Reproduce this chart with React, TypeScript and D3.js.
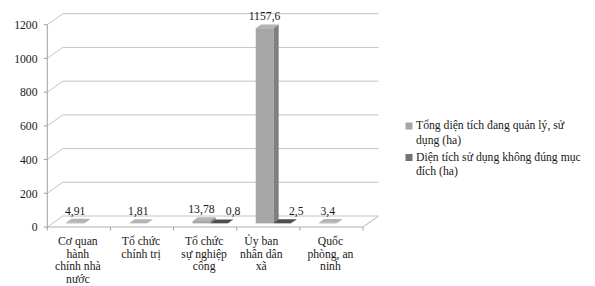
import React from "react";
import * as d3 from "d3";

const categoryLines = [
  ["Cơ quan", "hành", "chính nhà", "nước"],
  ["Tổ chức", "chính trị"],
  ["Tổ chức", "sự nghiệp", "công"],
  ["Ủy ban", "nhân dân", "xã"],
  ["Quốc", "phòng, an", "ninh"],
];
const categories = categoryLines.map((l) => l.join(" "));
const totalArea: (number | null)[] = [4.91, 1.81, 13.78, 1157.6, 3.4];
const misusedArea: (number | null)[] = [null, null, 0.8, 2.5, null];
const legendLines = [
  ["Tổng diện tích đang quản lý, sử", "dụng (ha)"],
  ["Diện tích sử dụng không đúng mục", "đích (ha)"],
];
const yTicks = [0, 200, 400, 600, 800, 1000, 1200];

const W = 595;
const H = 286;
const DX = 15.5; // depth offset of back wall
const DY = -11;
const F0 = 0.33; // bar depth range
const F1 = 0.67;
// no serif face in the sandbox, Liberation Sans at a smaller size keeps the widths close
const FONT = "'Liberation Serif', 'Times New Roman', 'Liberation Sans', Arial, sans-serif";
const FS = 11.7;

const seriesStyle = [
  { front: "#a6a6a6", side: "#7f7f7f", top: "#b4b4b4", legend: "#a6a6a6", labelDx: 0 },
  { front: "#5a5a5a", side: "#3c3c3c", top: "#4e4e4e", legend: "#737373", labelDx: 14 },
];

const fmt = (v: number) => String(v).replace(".", ",");
const pts = (p: [number, number][]) => p.map((d) => d.join(",")).join(" ");

export default function App() {
  const x = d3.scaleBand<string>().domain(categories).range([47.3, 363]);
  const y = d3.scaleLinear().domain([0, 1200]).range([227, 24.7]);
  const bw = x.bandwidth();
  const barW = bw * 0.28;
  const offset = (bw - 2 * barW) / 2;
  const series = [totalArea, misusedArea];

  const bars: JSX.Element[] = [];
  const labels: JSX.Element[] = [];
  categories.forEach((c, ci) => {
    series.forEach((vals, si) => {
      const v = vals[ci];
      if (v == null) return;
      const s = seriesStyle[si];
      const x0 = (x(c) as number) + offset + si * barW + DX * F0;
      const x1 = x0 + barW;
      const yb = y(0) + DY * F0;
      const yt = y(v) + DY * F0;
      const ddx = DX * (F1 - F0);
      const ddy = DY * (F1 - F0);
      bars.push(
        <g key={`b${ci}-${si}`}>
          <polygon
            points={pts([[x1, yb], [x1 + ddx, yb + ddy], [x1 + ddx, yt + ddy], [x1, yt]])}
            fill={s.side}
          />
          <polygon
            points={pts([[x0, yt], [x1, yt], [x1 + ddx, yt + ddy], [x0 + ddx, yt + ddy]])}
            fill={s.top}
          />
          <rect x={x0} y={yt} width={barW} height={Math.max(0, yb - yt)} fill={s.front} />
        </g>
      );
      labels.push(
        <text
          key={`l${ci}-${si}`}
          x={x0 + barW / 2 + s.labelDx}
          y={yt + ddy - 4}
          textAnchor="middle"
          fontSize={FS}
          fill="#1a1a1a"
        >
          {fmt(v)}
        </text>
      );
    });
  });

  const xL = 47.3;
  const xR = 363;
  const catX = (ci: number) => (x(categories[ci]) as number) + bw / 2 - (ci === 3 ? 7 : 1);

  return (
    <svg
      width={W}
      height={H}
      style={{ position: "absolute", left: 0, top: 0, background: "#fff", fontFamily: FONT }}
    >
      {/* back wall gridlines + left wall diagonals */}
      {yTicks.map((t) => (
        <g key={t} stroke="#c4c4c4" strokeWidth={1} fill="none">
          <line x1={xL + DX} x2={xR + DX} y1={y(t) + DY} y2={y(t) + DY} />
          <line x1={xL} x2={xL + DX} y1={y(t)} y2={y(t) + DY} />
        </g>
      ))}
      {/* floor */}
      <polyline
        points={pts([[xL, y(0)], [xR, y(0)], [xR + DX, y(0) + DY]])}
        fill="none"
        stroke="#b0b0b0"
      />
      {/* y axis */}
      <line x1={xL} x2={xL} y1={y(1200)} y2={y(0)} stroke="#a0a0a0" />
      {yTicks.map((t) => (
        <g key={`t${t}`}>
          <line x1={xL - 3.5} x2={xL} y1={y(t)} y2={y(t)} stroke="#a0a0a0" />
          <text x={37.5} y={y(t) + 4.3} textAnchor="end" fontSize={FS} fill="#1a1a1a">
            {t}
          </text>
        </g>
      ))}
      {/* x ticks */}
      {categories.concat([""]).map((c, i) => {
        const xx = xL + i * bw;
        return <line key={`xt${i}`} x1={xx} x2={xx} y1={y(0)} y2={y(0) + 3.5} stroke="#a0a0a0" />;
      })}
      {bars}
      {labels}
      {categoryLines.map((lines, ci) => (
        <text key={`c${ci}`} x={catX(ci)} y={245} textAnchor="middle" fontSize={FS} fill="#1a1a1a">
          {lines.map((ln, li) => (
            <tspan key={li} x={catX(ci)} dy={li === 0 ? 0 : 12.7}>
              {ln}
            </tspan>
          ))}
        </text>
      ))}
      {/* legend */}
      {legendLines.map((lines, i) => {
        const top = i === 0 ? 122.5 : 154;
        return (
          <g key={`lg${i}`}>
            <rect x={405.5} y={top} width={7} height={7} fill={seriesStyle[i].legend} />
            <text x={416} y={top + 6.5} fontSize={FS} fill="#1a1a1a">
              {lines.map((ln, li) => (
                <tspan key={li} x={416} dy={li === 0 ? 0 : 14.5}>
                  {ln}
                </tspan>
              ))}
            </text>
          </g>
        );
      })}
    </svg>
  );
}
